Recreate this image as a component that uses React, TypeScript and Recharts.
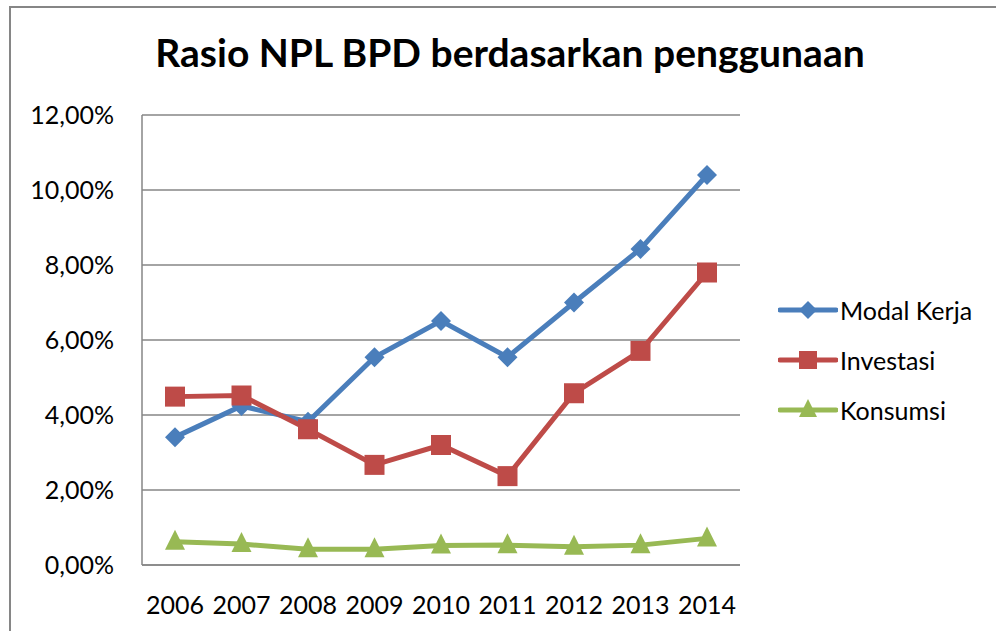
import { CartesianGrid, Line, LineChart, XAxis, YAxis } from 'recharts';

const years = ['2006', '2007', '2008', '2009', '2010', '2011', '2012', '2013', '2014'];
const modalKerja = [3.41, 4.24, 3.82, 5.54, 6.51, 5.54, 7.0, 8.43, 10.4];
const investasi = [4.49, 4.52, 3.62, 2.67, 3.2, 2.37, 4.58, 5.71, 7.8];
const konsumsi = [0.62, 0.56, 0.42, 0.42, 0.52, 0.53, 0.49, 0.53, 0.71];
const yTicks = [0, 2, 4, 6, 8, 10, 12];

const BLUE = '#4a7ebb';
const RED = '#be4b48';
const GREEN = '#98b954';
const GRID = '#868686';
const FONT = 'Lato, sans-serif';

const data = years.map((year, i) => ({
  year,
  modal: modalKerja[i],
  invest: investasi[i],
  konsumsi: konsumsi[i],
}));

const fmt = (v: number) => `${v.toFixed(2).replace('.', ',')}%`;

// marker shapes, Excel style
const Diamond = ({ x, y, size, color }: any) => (
  <polygon points={`${x},${y - size} ${x + size},${y} ${x},${y + size} ${x - size},${y}`} fill={color} />
);
const Square = ({ x, y, size, color }: any) => (
  <rect x={x - size} y={y - size} width={size * 2} height={size * 2} fill={color} />
);
const Triangle = ({ x, y, size, color }: any) => (
  <polygon
    points={`${x},${y - size - 2} ${x + size},${y + size - 2} ${x - size},${y + size - 2}`}
    fill={color}
  />
);

const makeDot = (Marker: any, color: string, size: number) => (p: any) =>
  p.cx == null ? <g key={p.index} /> : (
    <Marker key={p.index} x={p.cx} y={p.cy} size={size} color={color} />
  );

const legendItems = [
  { name: 'Modal Kerja', color: BLUE, Marker: Diamond },
  { name: 'Investasi', color: RED, Marker: Square },
  { name: 'Konsumsi', color: GREEN, Marker: Triangle },
];

export default function App() {
  return (
    <div style={{ position: 'fixed', top: 0, left: 0, width: 996, height: 631, background: '#fff', overflow: 'hidden' }}>
      <div
        style={{
          position: 'absolute',
          left: 9,
          top: 6,
          width: 1100,
          height: 700,
          border: `2px solid ${GRID}`,
        }}
      />
      <div
        style={{
          position: 'absolute',
          top: 29,
          left: 0,
          width: 1020,
          textAlign: 'center',
          fontFamily: FONT,
          fontWeight: 700,
          fontSize: 39,
          color: '#000',
        }}
      >
        Rasio NPL BPD berdasarkan penggunaan
      </div>
      <div style={{ position: 'absolute', top: 0, left: 0 }}>
        <LineChart width={996} height={631} data={data} margin={{ top: 115, right: 256, bottom: 6, left: 12 }}>
          <CartesianGrid vertical={false} stroke={GRID} strokeWidth={1.5} />
          <XAxis
            dataKey="year"
            height={60}
            padding={{ left: 33, right: 33 }}
            tickLine={false}
            axisLine={{ stroke: GRID, strokeWidth: 1.5 }}
            tick={{ fill: '#000', fontSize: 25, fontFamily: FONT }}
            tickMargin={25}
            interval={0}
          />
          <YAxis
            width={130}
            domain={[0, 12]}
            ticks={yTicks}
            tickFormatter={fmt}
            tickLine={false}
            axisLine={{ stroke: GRID, strokeWidth: 1.5 }}
            tick={{ fill: '#000', fontSize: 25, fontFamily: FONT }}
            tickMargin={22}
          />
          <Line
            dataKey="modal"
            stroke={BLUE}
            strokeWidth={5}
            dot={makeDot(Diamond, BLUE, 10)}
            activeDot={false}
            isAnimationActive={false}
          />
          <Line
            dataKey="invest"
            stroke={RED}
            strokeWidth={5}
            dot={makeDot(Square, RED, 10)}
            activeDot={false}
            isAnimationActive={false}
          />
          <Line
            dataKey="konsumsi"
            stroke={GREEN}
            strokeWidth={5}
            dot={makeDot(Triangle, GREEN, 10)}
            activeDot={false}
            isAnimationActive={false}
          />
        </LineChart>
      </div>
      <div style={{ position: 'absolute', left: 778, top: 285, fontFamily: FONT, fontSize: 25, color: '#000' }}>
        {legendItems.map(({ name, color, Marker }) => (
          <div key={name} style={{ display: 'flex', alignItems: 'center', height: 50 }}>
            <svg width={60} height={30}>
              <line x1={2} y1={15} x2={58} y2={15} stroke={color} strokeWidth={5} strokeLinecap="round" />
              <Marker x={30} y={15} size={9} color={color} />
            </svg>
            <span style={{ marginLeft: 2 }}>{name}</span>
          </div>
        ))}
      </div>
    </div>
  );
}
